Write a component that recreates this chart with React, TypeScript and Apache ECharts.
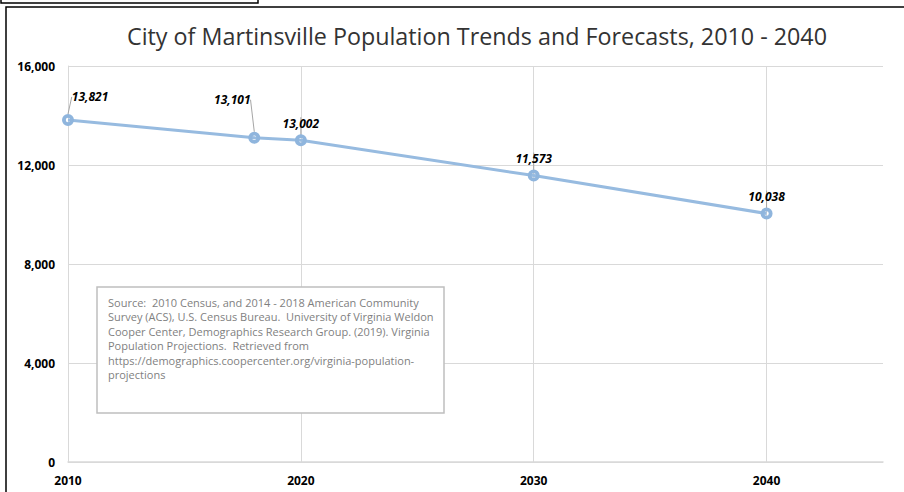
import React, { useEffect, useRef } from "react";
import * as echarts from "echarts";

const years = [2010, 2018, 2020, 2030, 2040];
const population = [13821, 13101, 13002, 11573, 10038];
const yTicks = [0, 4000, 8000, 12000, 16000];
const xTickLabels = [2010, 2020, 2030, 2040];
const titleText = "City of Martinsville Population Trends and Forecasts, 2010 - 2040";
const sourceLines = [
  "Source:  2010 Census, and 2014 - 2018 American Community",
  "Survey (ACS), U.S. Census Bureau.  University of Virginia Weldon",
  "Cooper Center, Demographics Research Group. (2019). Virginia",
  "Population Projections.  Retrieved from",
  "https://demographics.coopercenter.org/virginia-population-",
  "projections",
];

const FONT = "'Open Sans', 'Noto Sans', sans-serif";
const fmt = (v: number) => v.toLocaleString("en-US");
const RING = "path://M0,-6A6,6 0 1,1 0,6A6,6 0 1,1 0,-6ZM0,-2.2A2.2,2.2 0 1,0 0,2.2A2.2,2.2 0 1,0 0,-2.2Z";

export default function App() {
  const ref = useRef<HTMLDivElement>(null);
  useEffect(() => {
    if (!ref.current) return;
    const chart = echarts.init(ref.current, null, { renderer: "svg" });
    const labelShift: Record<number, [number, number]> = { 0: [22, -6], 1: [-22, -21] };
    chart.setOption({
      animation: false,
      backgroundColor: "#ffffff",
      title: {
        text: titleText,
        left: 472,
        top: 19,
        textAlign: "center",
        textStyle: { fontFamily: FONT, fontSize: 23.3, fontWeight: "normal", color: "#333333" },
      },
      grid: { left: 68, right: 21, top: 66, bottom: 30, containLabel: false },
      xAxis: {
        type: "value",
        min: 2010,
        max: 2045,
        interval: 10,
        axisLine: { show: true, lineStyle: { color: "#d9d9d9", width: 1.5 } },
        axisTick: { show: false },
        axisLabel: {
          margin: 12,
          fontFamily: FONT,
          fontSize: 12,
          fontWeight: "bold",
          color: "#000",
          showMaxLabel: false,
          formatter: (v: number) => (xTickLabels.includes(v) ? String(v) : ""),
        },
        splitLine: { show: true, showMaxLine: false, lineStyle: { color: "#d9d9d9", width: 1 } },
      },
      yAxis: {
        type: "value",
        min: yTicks[0],
        max: yTicks[yTicks.length - 1],
        interval: 4000,
        axisLine: { show: true, lineStyle: { color: "#d9d9d9", width: 1 } },
        axisTick: { show: false },
        axisLabel: {
          margin: 13,
          fontFamily: FONT,
          fontSize: 12,
          fontWeight: "bold",
          color: "#000",
          formatter: (v: number) => fmt(v),
        },
        splitLine: { show: true, lineStyle: { color: "#d9d9d9", width: 1 } },
      },
      series: [
        {
          type: "line",
          data: years.map((y, i) => [y, population[i]]),
          symbol: RING,
          symbolSize: 12,
          lineStyle: { color: "#97bbe0", width: 3 },
          itemStyle: { color: "#8fb5dd", borderWidth: 0 },
          label: {
            show: true,
            position: "top",
            distance: 5,
            fontFamily: FONT,
            fontSize: 12,
            fontWeight: "bold",
            fontStyle: "italic",
            color: "#000",
            formatter: (p: any) => fmt(p.value[1]),
          },
          labelLine: { show: true, lineStyle: { color: "#a6a6a6", width: 1 } },
          labelLayout: (p: any) => {
            const s = labelShift[p.dataIndex];
            return s ? { dx: s[0], dy: s[1] } : {};
          },
          z: 3,
        },
      ],
      graphic: [
        {
          type: "polyline",
          z: 100,
          shape: { points: [[1, 0], [1, 3], [258, 3], [258, 0]] },
          style: { stroke: "#000", lineWidth: 1.5, fill: null },
        },
        {
          type: "polyline",
          z: 100,
          shape: { points: [[6, 492], [6, 7], [904, 7]] },
          style: { stroke: "#000", lineWidth: 1.5, fill: null },
        },
        {
          type: "rect",
          z: 100,
          shape: { x: 97, y: 287, width: 347, height: 126 },
          style: { fill: "#ffffff", stroke: "#bfbfbf", lineWidth: 1.5 },
        },
        {
          type: "text",
          z: 101,
          x: 108,
          y: 295,
          style: {
            text: sourceLines.join("\n"),
            fontFamily: FONT,
            fontSize: 11,
            lineHeight: 14.5,
            fill: "#7f7f7f",
          },
        },
      ],
    });
    return () => chart.dispose();
  }, []);
  return (
    <div
      ref={ref}
      style={{ position: "fixed", left: 0, top: 0, width: 904, height: 492 }}
    />
  );
}
